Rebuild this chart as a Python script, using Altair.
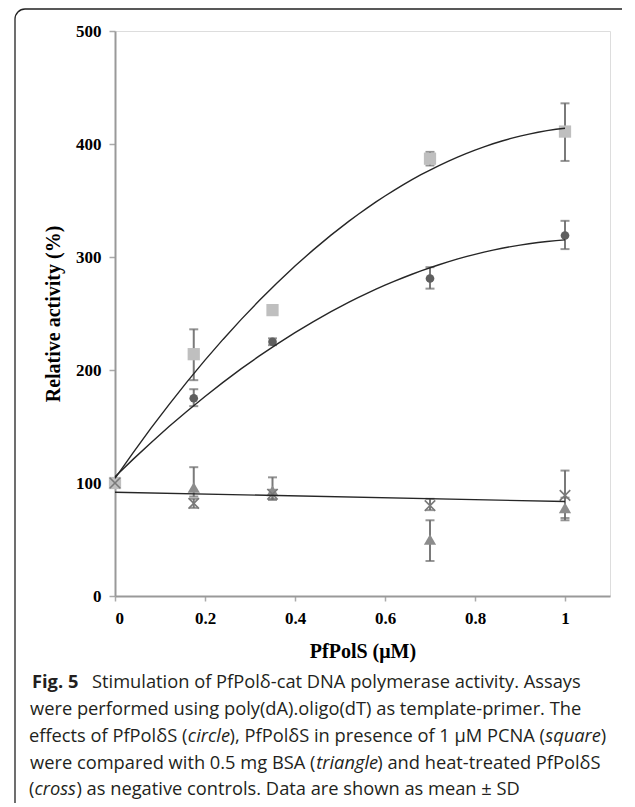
import altair as alt
import pandas as pd

# ---- data ----
conc = [0, 0.175, 0.35, 0.7, 1.0]

circle_mean = [100, 175, 225, 281, 319]
circle_lo = [97, 168, 222, 272, 307]
circle_hi = [103, 183, 228, 291, 332]

square_mean = [100, 214, 253, 387, 411]
square_lo = [97, 191, 250, 381, 385]
square_hi = [104, 236, 256, 393, 436]

triangle_mean = [100, 96, 93, 50, 78]
triangle_lo = [97, 88, 85, 31, 69]
triangle_hi = [104, 114, 105, 67, 87]

cross_mean = [100, 82, 90, 80, 89]
cross_lo = [97, 78, 86, 76, 67]
cross_hi = [103, 86, 94, 86, 111]

x_ticks = [0, 0.2, 0.4, 0.6, 0.8, 1]
y_ticks = [0, 100, 200, 300, 400, 500]

rows = []
for name, m, lo, hi in [("circle", circle_mean, circle_lo, circle_hi),
                        ("square", square_mean, square_lo, square_hi),
                        ("triangle", triangle_mean, triangle_lo, triangle_hi),
                        ("cross", cross_mean, cross_lo, cross_hi)]:
    for c, a, b, d in zip(conc, m, lo, hi):
        rows.append({"series": name, "conc": c, "mean": a, "lo": b, "hi": d})
df = pd.DataFrame(rows)

PLOT_L, PLOT_T, W, H = 115, 31, 495, 565
SERIF = "Liberation Serif"

xscale = alt.Scale(domain=[0, 1.1], nice=False)
yscale = alt.Scale(domain=[0, 500], nice=False)
xaxis = alt.Axis(values=x_ticks, format="~g", title="PfPolS (\u03bcM)", grid=False,
                 labelFont=SERIF, labelFontWeight="bold", labelFontSize=17, labelColor="black",
                 labelPadding=9, tickSize=5, tickColor="#aaaaaa", tickWidth=1.5,
                 domainColor="#999999", domainWidth=2,
                 titleFont=SERIF, titleFontWeight="bold", titleFontSize=20, titleColor="black",
                 titlePadding=15)
yaxis = alt.Axis(values=y_ticks, title="Relative activity (%)", grid=False,
                 labelFont=SERIF, labelFontWeight="bold", labelFontSize=17, labelColor="black",
                 labelPadding=8, tickSize=6, tickColor="#aaaaaa", tickWidth=1.5,
                 domainColor="#999999", domainWidth=2,
                 titleFont=SERIF, titleFontWeight="bold", titleFontSize=20, titleColor="black",
                 titlePadding=12)

def X():
    return alt.X("conc:Q", scale=xscale, axis=xaxis)

def Y(field):
    return alt.Y(f"{field}:Q", scale=yscale, axis=yaxis)

base = alt.Chart(df)

err = base.mark_rule(color="#7a7a7a", strokeWidth=2).encode(x=X(), y=Y("lo"), y2="hi:Q")
cap_lo = base.mark_tick(orient="horizontal", color="#6a6a6a", size=9, thickness=2).encode(x=X(), y=Y("lo"))
cap_hi = base.mark_tick(orient="horizontal", color="#6a6a6a", size=9, thickness=2).encode(x=X(), y=Y("hi"))

def pts(name, **kw):
    return base.transform_filter(alt.datum.series == name).mark_point(**kw).encode(x=X(), y=Y("mean"))

p_square = pts("square", shape="square", filled=True, size=150, color="#bfbfbf", opacity=1)
p_triangle = pts("triangle", shape="triangle-up", filled=True, size=150, color="#8c8c8c", opacity=1)
p_cross = pts("cross", shape="M-1,-1L1,1M1,-1L-1,1", filled=False, size=110, color="#7a7a7a",
              strokeWidth=1.6, opacity=1)
p_circle = pts("circle", shape="circle", filled=True, size=75, color="#5f5f5f", opacity=1)

def fit(name, method, order=None):
    kw = dict(method=method, extent=[0, 1])
    if order:
        kw["order"] = order
    return (base.transform_filter(alt.datum.series == name)
            .transform_regression("conc", "mean", **kw)
            .mark_line(color="#262626", strokeWidth=1.4)
            .encode(x=X(), y=Y("mean")))

f_circle = fit("circle", "poly", 2)
f_square = fit("square", "poly", 2)
f_cross = fit("cross", "linear")

# outer rounded frame
one = alt.Data(values=[{}])
frame = alt.Chart(one).mark_rect(fill="transparent", stroke="#222222", strokeWidth=1.3,
                                 cornerRadius=10).encode(
    x=alt.value(15 - PLOT_L), x2=alt.value(660 - PLOT_L),
    y=alt.value(9 - PLOT_T), y2=alt.value(830 - PLOT_T))

# ---- caption (mixed styles laid out segment by segment) ----
CAP_FONT = "Open Sans"
CAP_SIZE = 18.3
# approximate Open Sans advance widths (em) used to chain the segments
ADV = {" ": .260, "a": .556, "b": .613, "c": .476, "d": .613, "e": .561, "f": .339, "g": .548,
       "h": .614, "i": .253, "j": .253, "k": .525, "l": .253, "m": .930, "n": .614, "o": .604,
       "p": .613, "q": .613, "r": .408, "s": .477, "t": .353, "u": .614, "v": .501, "w": .778,
       "x": .524, "y": .502, "z": .471, "A": .633, "B": .648, "C": .631, "D": .729, "F": .544,
       "M": .895, "N": .742, "P": .603, "S": .549, "T": .553, "(": .297, ")": .297, ".": .266,
       ",": .244, "-": .322, "\u00b1": .572, "\u03b4": .604, "\u03bc": .619}

def seg_width(txt, italic):
    w = sum(ADV.get(ch, .572 if ch.isdigit() else .55) for ch in txt) * CAP_SIZE
    return w * (0.94 if italic else 1.0)

caption_lines = [
    # (start x on page, baseline on page, [(text, style), ...])
    (32, 688, [("Fig. 5", "bold")]),
    (92, 688, [("Stimulation of PfPol\u03b4-cat DNA polymerase activity. Assays", "normal")]),
    (30, 715, [("were performed using poly(dA).oligo(dT) as template-primer. The", "normal")]),
    (29, 742, [("effects of PfPol\u03b4S (", "normal"), ("circle", "italic"),
               ("), PfPol\u03b4S in presence of 1 \u03bcM PCNA (", "normal"), ("square", "italic"),
               (")", "normal")]),
    (30, 769, [("were compared with 0.5 mg BSA (", "normal"), ("triangle", "italic"),
               (") and heat-treated PfPol\u03b4S", "normal")]),
    (29, 795, [("(", "normal"), ("cross", "italic"),
               (") as negative controls. Data are shown as mean \u00b1 SD", "normal")]),
]

cap_layers = []
for x0, y0, segs in caption_lines:
    cx = x0
    for txt, style in segs:
        kw = dict(align="left", baseline="alphabetic", font=CAP_FONT, fontSize=CAP_SIZE,
                  color="#231f20", text=txt)
        if style == "bold":
            kw["fontWeight"] = "bold"
        if style == "italic":
            kw["fontStyle"] = "italic"
        cap_layers.append(alt.Chart(one).mark_text(**kw).encode(
            x=alt.value(cx - PLOT_L), y=alt.value(y0 - PLOT_T)))
        cx += seg_width(txt, style == "italic")

chart = alt.layer(
    err, cap_lo, cap_hi, p_circle, p_triangle, p_square, p_cross,
    f_circle, f_square, f_cross, frame, *cap_layers
).properties(
    width=W, height=H,
    autosize=alt.AutoSizeParams(type="none"),
    padding={"left": PLOT_L - 8, "top": PLOT_T - 8, "right": 12, "bottom": 207},
).configure_view(
    stroke="#666666", strokeWidth=1.5
).configure(background="white")

chart.save("out.html", embed_options={"renderer": "svg", "actions": False})
